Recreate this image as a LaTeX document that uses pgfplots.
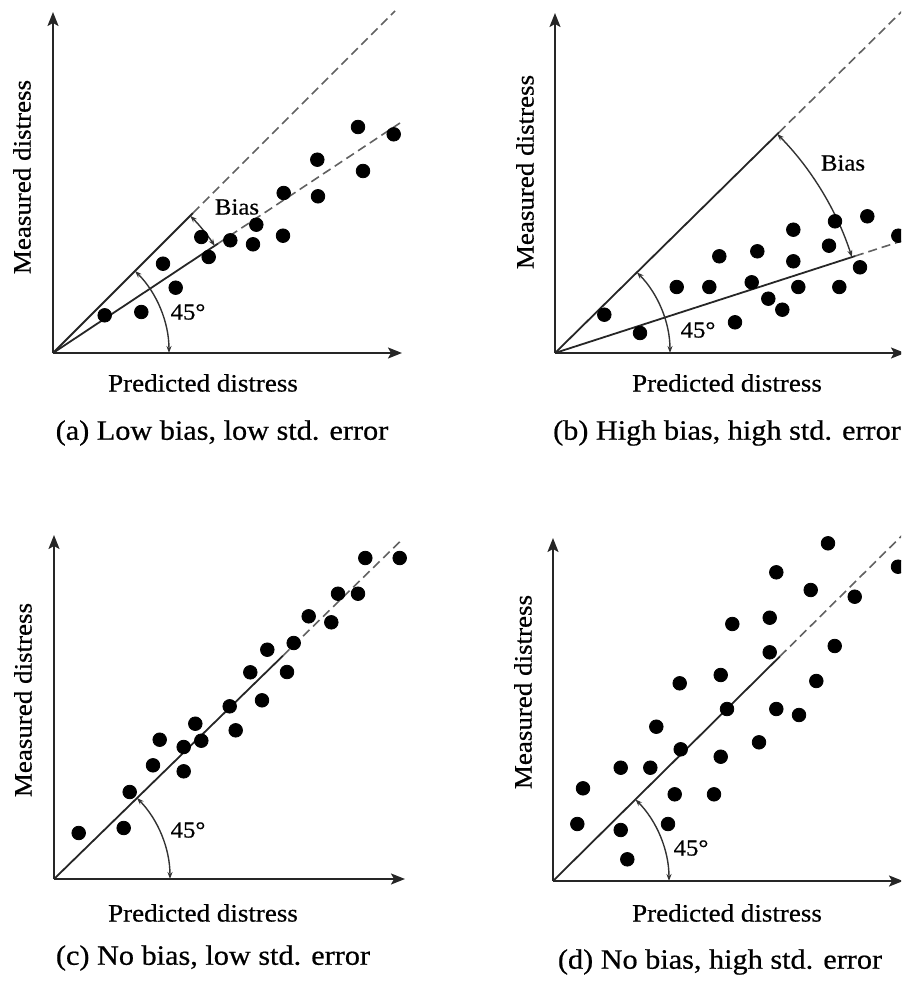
\documentclass[border=0pt]{standalone}
\usepackage{fontspec}
\setmainfont{Liberation Serif}[FakeStretch=1.08, FakeBold=0.6]
\usepackage{pgfplots}
\pgfplotsset{compat=1.18}
\usetikzlibrary{arrows.meta}

% one data unit = one pixel of the reference = 0.5pt
\pgfplotsset{
  sketch/.style={
    x=0.5pt, y=0.5pt, xmin=0, ymin=0,
    axis lines=left, ticks=none, clip=false,
    axis line style={line width=1pt, draw=black!85,
      -{Stealth[length=7pt,width=5.5pt,inset=1.5pt]}},
    anchor=south west,
  },
}
\tikzset{
  solidln/.style={line width=0.9pt, draw=black!85},
  dashln/.style={line width=0.8pt, draw=black!62, dash pattern=on 4.5pt off 2.5pt},
  dots/.style={only marks, mark=*, mark size=3.4pt, mark options={fill=black, draw=black}},
  angarc/.style={line width=0.7pt, draw=black!80,
    {Stealth[length=3.5pt,width=2.5pt]}-{Stealth[length=3.5pt,width=2.5pt]}},
  axlbl/.style={font=\fontsize{12.5}{14}\selectfont},
  captxt/.style={font=\fontsize{14}{16}\selectfont},
  annot/.style={font=\fontsize{11.5}{13}\selectfont},
}

\begin{document}
\begin{tikzpicture}
\path[use as bounding box] (0,0) rectangle (450.5pt,-492pt);
\clip (0,0) rectangle (450.5pt,-492pt);

% (a)
\begin{axis}[sketch, at={(26.5pt,-176.5pt)}, xmax=349, ymax=341]
  \addplot[solidln] coordinates {(0,0) (140,140)};
  \addplot[dashln] coordinates {(140,140) (342,342)};
  \addplot[solidln] coordinates {(0,0) (165,109.4)};
  \addplot[dashln] coordinates {(165,109.4) (347,230)};
  \addplot[dots] coordinates {
    (51.7,37.7) (88.3,41) (122.7,65.3) (110,89.3) (148.3,116) (155.7,96)
    (177.3,112.7) (200,108.7) (203.3,128.3) (230,117.3) (230.7,160)
    (265,156.7) (264.3,193.3) (310,182) (305,226) (340.7,218.7)
  };
  \draw[angarc] (axis cs:0,0) ++(0:58pt) arc[start angle=0, end angle=45, radius=58pt];
  \draw[angarc] (axis cs:0,0) ++(45:97pt) arc[start angle=45, end angle=33.5, radius=97pt];
  \node[annot] at (axis cs:184,146) {Bias};
  \node[annot] at (axis cs:135,41) {45°};
  \node[axlbl] at (axis cs:150,-30) {Predicted distress};
  \node[axlbl, rotate=90] at (axis cs:-31,176) {Measured distress};
  \node[captxt] at (axis cs:169,-80) {(a) Low bias, low std. error};
\end{axis}

% (b)
\begin{axis}[sketch, at={(277.5pt,-176.5pt)}, xmax=350, ymax=340]
  \addplot[solidln] coordinates {(0,0) (224,220.6)};
  \addplot[dashln] coordinates {(224,220.6) (352,346.7)};
  \addplot[solidln] coordinates {(0,0) (300,96.9)};
  \addplot[dashln] coordinates {(300,96.9) (352,113.7)};
  \addplot[dots] coordinates {
    (49.3,38.3) (85,20) (180,30.7) (121.7,66) (154.3,66) (164.3,96.7)
    (196.7,70.7) (202.3,101.7) (213.3,54.3) (227.3,43.3) (238.3,123.3)
    (238.3,91.7) (243.3,66) (274,107.3) (280,131.7) (284.3,66)
    (305,85.7) (312.3,136.7) (343.3,117.3)
  };
  \draw[angarc] (axis cs:0,0) ++(0:57.5pt) arc[start angle=0, end angle=44.6, radius=57.5pt];
  \draw[angarc] (axis cs:0,0) ++(44.6:156pt) arc[start angle=44.6, end angle=17.9, radius=156pt];
  \node[annot] at (axis cs:288,190) {Bias};
  \node[annot] at (axis cs:143,23) {45°};
  \node[axlbl] at (axis cs:172,-30) {Predicted distress};
  \node[axlbl, rotate=90] at (axis cs:-30,181) {Measured distress};
  \node[captxt] at (axis cs:172,-80) {(b) High bias, high std. error};
\end{axis}

% (c)
\begin{axis}[sketch, at={(27pt,-439.5pt)}, xmax=351, ymax=344]
  \addplot[solidln] coordinates {(0,0) (229,223.3)};
  \addplot[dashln] coordinates {(229,223.3) (349,340.3)};
  \addplot[dots] coordinates {
    (24.7,46) (69.7,51) (75.7,87) (99,113.7) (105.7,139.3) (129.7,107.7)
    (129.7,132) (141.3,155.3) (147.3,138.3) (175.7,172.7) (181.7,148.7)
    (196.3,206.7) (208,178.7) (213.3,229.3) (233,207) (239.7,236)
    (254.7,262.7) (277.3,256.7) (284,285.3) (304,285.3) (311.3,321)
    (345.7,321)
  };
  \draw[angarc] (axis cs:0,0) ++(0:58pt) arc[start angle=0, end angle=44.3, radius=58pt];
  \node[annot] at (axis cs:134,49) {45°};
  \node[axlbl] at (axis cs:149,-34) {Predicted distress};
  \node[axlbl, rotate=90] at (axis cs:-31,179) {Measured distress};
  \node[captxt] at (axis cs:159,-79) {(c) No bias, low std. error};
\end{axis}

% (d)
\begin{axis}[sketch, at={(276.5pt,-440.5pt)}, xmax=350, ymax=343]
  \addplot[solidln] coordinates {(0,0) (227,224.7)};
  \addplot[dashln] coordinates {(227,224.7) (352,348.5)};
  \addplot[dots] coordinates {
    (24.3,57) (30,92.7) (67.7,51) (74.3,21.7) (67.7,113.3) (97.3,113.3)
    (103.3,154.3) (115,57) (121.7,86.7) (126.7,197.7) (127.7,131.7)
    (161,86.7) (167.7,124.3) (167.7,206) (174,172) (179.3,257)
    (206,138.7) (216.7,263.3) (216.7,228.7) (223.3,308.7) (223.3,172)
    (246,166) (257.7,291) (263.3,200) (275,337.7) (281.7,235)
    (301.7,284.3) (345,314.3)
  };
  \draw[angarc] (axis cs:0,0) ++(0:58pt) arc[start angle=0, end angle=44.7, radius=58pt];
  \node[annot] at (axis cs:138,33) {45°};
  \node[axlbl] at (axis cs:174,-32) {Predicted distress};
  \node[axlbl, rotate=90] at (axis cs:-30,189) {Measured distress};
  \node[captxt] at (axis cs:167,-81) {(d) No bias, high std. error};
\end{axis}
\end{tikzpicture}
\end{document}
